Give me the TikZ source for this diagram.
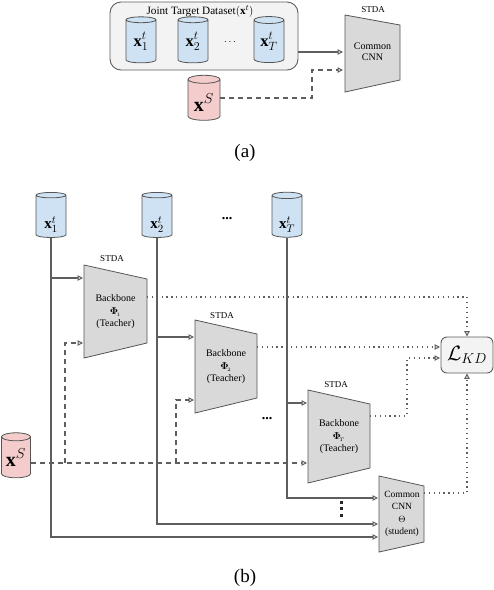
\documentclass[tikz,border=0pt]{standalone}
\usepackage{fontspec}
\setmainfont{Liberation Serif}
\usepackage{bm}
\usetikzlibrary{shapes.geometric,arrows.meta,calc}
\definecolor{lc}{HTML}{5E5E5E}
\definecolor{bc}{HTML}{555555}
\definecolor{cblue}{HTML}{CFE2F3}
\definecolor{cpink}{HTML}{F4CCCC}
\definecolor{tgray}{HTML}{D9D9D9}
\definecolor{boxfill}{HTML}{F3F3F3}
\begin{document}
\begin{tikzpicture}[x=1pt,y=-1pt,
  conn/.style={draw=lc, line width=1.15pt, -{Triangle[open,length=5.5pt,width=5.5pt,line width=1pt]}},
  dsh/.style={conn, dash pattern=on 5pt off 4pt},
  dts/.style={conn, line width=1.25pt, dash pattern=on 1.25pt off 3.6pt},
  cylbase/.style={cylinder, shape border rotate=90, aspect=0.4, draw=bc, line width=0.8pt, inner sep=0pt},
  cylb/.style={cylbase, fill=cblue},
  cylp/.style={cylbase, fill=cpink},
  cyla/.style={cylb, minimum width=30pt, minimum height=46pt, font=\fontsize{16.5}{18}\selectfont},
  cylbb/.style={cylb, minimum width=30pt, minimum height=45pt, font=\fontsize{15}{16}\selectfont, text height=24pt, text depth=0pt},
  trap/.style={draw=bc, line width=0.8pt, fill=tgray},
  ttext/.style={align=center, font=\fontsize{10}{12.5}\selectfont, inner sep=0pt},
  stda/.style={font=\fontsize{9}{10}\selectfont, inner sep=0pt},
  captxt/.style={font=\fontsize{19}{22}\selectfont},
  dotsq/.style={fill=black!85}
]
\useasboundingbox (0,0) rectangle (494,590);

% ---------------- (a) ----------------
\node[draw=lc, line width=0.9pt, fill=boxfill, rounded corners=11pt, minimum width=188pt, minimum height=68pt, inner sep=0pt] (jtd) at (204,36) {};
\node[font=\fontsize{11.2}{13}\selectfont, inner sep=0pt] (jtdt) at (200,11) {Joint Target Dataset$(\mathbf{x}^t)$};
\node[cyla] (a1) at (141,41.5) {$\mathbf{x}_1^t$};
\node[cyla] (a2) at (193,41.5) {$\mathbf{x}_2^t$};
\node (adots) at (230,42) {$\cdots$};
\node[cyla] (aT) at (269,41.5) {$\mathbf{x}_T^t$};
\node[cylp, minimum width=32pt, minimum height=45pt, font=\fontsize{20}{21}\selectfont, text height=22pt, text depth=0pt] (as) at (204,100) {$\mathbf{x}^S$};
\draw[trap] (345,15) -- (400,25) -- (400,80) -- (345,92) -- cycle;
\node[align=center, font=\fontsize{10}{11}\selectfont, inner sep=0pt] (acnn) at (372.5,52) {Common\\CNN};
\node[stda] (astda) at (373,10) {STDA};
\coordinate (aIn1) at (343,52);
\coordinate (aIn2) at (343,70);
\coordinate (aTurn) at (312,98);
\draw[conn] (jtd.east |- aIn1) -- (aIn1);
\draw[dsh] (as.east |- aTurn) -- (aTurn) |- (aIn2);
\node[captxt] (capa) at (245,153) {(a)};

% ---------------- (b) ----------------
\node[cylbb] (c1) at (51,216.5) {$\mathbf{x}_1^t$};
\node[cylbb] (c2) at (157,216.5) {$\mathbf{x}_2^t$};
\node[cylbb] (cT) at (287,216.5) {$\mathbf{x}_T^t$};
\node[font=\fontsize{14}{14}\selectfont\bfseries] (bdots) at (227,219) {...};

% backbones
\draw[trap] (84,265) -- (147,279) -- (147,343) -- (84,358) -- cycle;
\node[ttext] (bb1) at (115.5,312) {Backbone\\$\bm{\Phi}_{\!_1}$\\(Teacher)};
\node[stda] (s1) at (112,259) {STDA};
\draw[trap] (195,320) -- (257,334) -- (257,398) -- (195,413) -- cycle;
\node[ttext] (bb2) at (226,367) {Backbone\\$\bm{\Phi}_{\!_2}$\\(Teacher)};
\node[stda] (s2) at (222,316) {STDA};
\draw[trap] (308,390) -- (370,404) -- (370,468) -- (308,483) -- cycle;
\node[ttext] (bbT) at (339,437) {Backbone\\$\bm{\Phi}_{\!_T}$\\(Teacher)};
\node[stda] (sT) at (336,385) {STDA};
\draw[trap] (379,476) -- (424,486) -- (424,542) -- (379,552) -- cycle;
\node[ttext, font=\fontsize{9.5}{12.3}\selectfont] (cnn) at (402,514) {Common\\CNN\\$\Theta$\\(student)};

\node[font=\fontsize{14}{14}\selectfont\bfseries] (mdots) at (267,419) {...};
% vertical dots
\fill[dotsq] (339.5,500.5) rectangle (342.5,503.5);
\fill[dotsq] (339.5,507) rectangle (342.5,510);
\fill[dotsq] (339.5,513.5) rectangle (342.5,516.5);

% source
\node[cylp, minimum width=29pt, minimum height=45pt, font=\fontsize{20}{21}\selectfont, text height=17pt, text depth=0pt] (bs) at (16,457.5) {$\mathbf{x}^S$};

% loss
\node[draw=lc, line width=0.9pt, fill=boxfill, rounded corners=6pt, minimum width=52pt, minimum height=36pt, inner sep=0pt, font=\fontsize{22}{24}\selectfont] (lkd) at (467,355) {$\mathcal{L}_{KD}$};

% target connectors
\coordinate (i11) at (83,278);
\coordinate (i22) at (194,337);
\coordinate (iTT) at (307,403);
\coordinate (n1) at (378,537);
\coordinate (n2) at (378,524);
\coordinate (nT) at (378,498);
\draw[conn] (c1.south) |- (n1);
\draw[conn] (c2.south) |- (n2);
\draw[conn] (cT.south) |- (nT);
\draw[conn] (c1.south |- i11) -- (i11);
\draw[conn] (c2.south |- i22) -- (i22);
\draw[conn] (cT.south |- iTT) -- (iTT);

% source connectors
\coordinate (sm) at (307,463);
\coordinate (sb1) at (83,343);
\coordinate (sb2) at (194,400);
\coordinate (k1) at (65,463);
\coordinate (k2) at (176,463);
\draw[dsh] (bs.east |- sm) -- (sm);
\draw[dsh] (k1) |- (sb1);
\draw[dsh] (k2) |- (sb2);

% distillation
\coordinate (o1) at (147,297);
\coordinate (o2) at (257,347);
\coordinate (oT) at (370,416);
\coordinate (oS) at (424,493);
\coordinate (l2) at (440,347);
\coordinate (l3) at (440,358);
\coordinate (jT) at (407,416);
\draw[dts] (o1) -| (lkd.north);
\draw[dts] (o2) -- (l2);
\draw[dts] (oT) -- (jT) |- (l3);
\draw[dts] (oS) -| (lkd.south);

\node[captxt] (capb) at (245,578) {(b)};
\end{tikzpicture}
\end{document}
